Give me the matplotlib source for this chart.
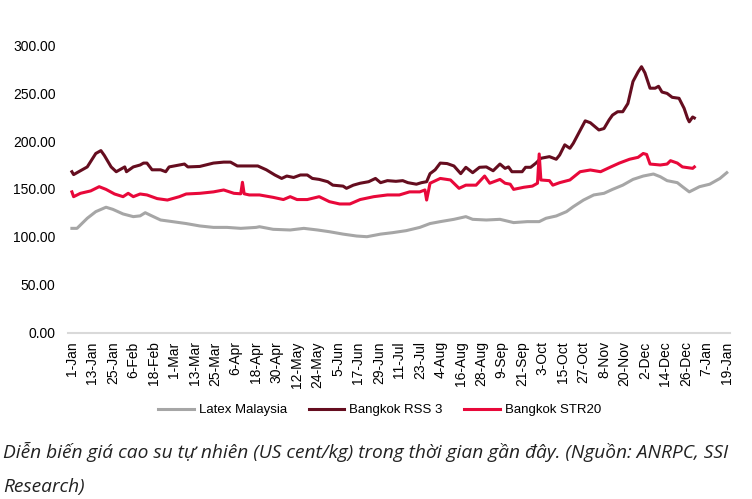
import matplotlib
matplotlib.use('Agg')
from matplotlib import pyplot as plt
import matplotlib.dates as mdates
import pandas as pd
import numpy as np

# days counted from 1-Jan-2024, values in US cent/kg
latex_days = [0, 3, 9, 14, 20, 24, 30, 36, 40, 43, 46, 52, 59, 67, 75, 83, 91, 99, 108, 110,
              118, 128, 136, 144, 151, 159, 167, 173, 181, 188, 196, 204, 210, 216, 224, 231,
              235, 243, 251, 259, 267, 274, 278, 284, 290, 294, 300, 306, 312, 317, 323, 329,
              335, 341, 345, 349, 355, 358, 362, 368, 374, 380, 384]
latex_vals = [109, 109, 119.5, 126.4, 131, 128.8, 124, 121.2, 122, 125.3, 122.7, 117.7, 116,
              114, 111.5, 110, 110, 109, 110, 110.7, 108, 107.3, 109, 107.3, 105.5, 103, 101,
              100.3, 103, 104.5, 106.6, 110, 114, 116, 118.4, 121.2, 118.4, 117.7, 118.4, 115,
              116, 116, 119.5, 121.9, 126.4, 131.6, 138.5, 143.8, 145.5, 149.6, 154, 160,
              163.5, 165.6, 162.8, 158.7, 156.6, 152.4, 147, 152.4, 155, 161, 167]

rss3_days = [0, 1, 9, 14, 17, 19, 23, 26, 31, 32, 36, 40, 42, 44, 47, 52, 55, 57, 63, 66, 68,
             75, 83, 89, 93, 97, 109, 114, 119, 123, 126, 130, 134, 138, 141, 145, 150, 153,
             159, 161, 165, 169, 174, 178, 181, 185, 190, 194, 197, 202, 205, 208, 210, 213,
             216, 220, 224, 228, 231, 235, 239, 243, 247, 251, 254, 256, 258, 264, 266, 269,
             272, 275, 280, 284, 286, 289, 292, 294, 298, 301, 304, 309, 312, 315, 317, 320,
             323, 326, 329, 332, 334, 336, 339, 342, 344, 346, 349, 352, 356, 359, 361, 362,
             364, 365]
rss3_vals = [168, 165, 173, 187, 190, 185, 173, 168, 173, 168, 173, 175, 177, 177, 170, 170,
             168, 173, 175, 176, 173, 173.5, 177, 178, 178, 174, 174, 170, 164.6, 161, 163.5,
             162, 164.6, 164.6, 161, 160, 157.6, 154, 153, 150.7, 154, 156, 157.6, 161, 156.6,
             158.7, 158, 158.7, 156.6, 155, 156.6, 157.6, 166, 170, 177, 176.5, 174, 166,
             172.6, 167, 172.6, 173, 169, 176, 171.5, 173, 168, 168, 172.6, 172.6, 176.8, 182,
             183.7, 181, 185.4, 196, 192.4, 197.6, 211, 221, 219, 211.5, 213, 222, 227, 230.5,
             230.5, 239, 262, 272, 277.4, 271, 255, 255, 257, 251, 249.6, 245.5, 244.5, 234,
             223.6, 220, 225, 224]

str20_days = [0, 1, 5, 11, 16, 20, 25, 30, 33, 36, 40, 44, 50, 56, 63, 67, 75, 83, 89, 95, 99,
              100, 101, 104, 110, 118, 124, 128, 132, 138, 145, 151, 157, 163, 169, 177, 185,
              192, 198, 204, 207, 208, 210, 216, 222, 227, 231, 237, 242, 245, 251, 254, 257,
              259, 265, 270, 273, 274, 275, 280, 282, 286, 292, 298, 304, 310, 316, 321, 327,
              332, 335, 337, 339, 345, 349, 351, 355, 358, 364, 365]
str20_vals = [147, 142, 145.5, 148, 152.4, 149.6, 144.8, 142, 145.5, 142, 144.8, 143.8, 140,
              138.5, 142, 144.8, 145.5, 147, 149, 145.5, 145, 157, 145, 143.8, 143.8, 141.3, 139,
              142, 139, 139, 142, 136.8, 134.4, 134.4, 139, 142, 143.8, 143.8, 147, 147, 149,
              138.5, 156, 161, 159.4, 150.7, 154, 154, 163.5, 156, 160, 156, 155, 149.6, 151.8,
              153, 156, 186.5, 159.4, 158.7, 154, 156.6, 159.4, 168, 169.8, 168, 173, 177, 181,
              183, 187, 186, 176, 175, 176, 179.5, 177, 173, 171.5, 173]

start = pd.Timestamp('2024-01-01')
to_dates = lambda days: start + pd.to_timedelta(days, unit='D')

grey = '#a6a6a6'
maroon = '#650d1f'
red = '#e8083a'

plt.rcParams['font.family'] = ['Liberation Sans', 'DejaVu Sans']

fig = plt.figure(figsize=(7.52, 4.99), dpi=100)
ax = fig.add_axes([0.0904, 0.3327, 0.8806, 0.5771])

ax.plot(to_dates(latex_days), latex_vals, color=grey, lw=2.2, label='Latex Malaysia')
ax.plot(to_dates(rss3_days), rss3_vals, color=maroon, lw=2.2, label='Bangkok RSS 3')
ax.plot(to_dates(str20_days), str20_vals, color=red, lw=2.2, label='Bangkok STR20')

ax.set_ylim(0, 300)
ax.set_yticks(np.arange(0, 301, 50))
ax.yaxis.set_major_formatter(matplotlib.ticker.FormatStrFormatter('%.2f'))
ax.set_xlim(to_dates(-2.3), to_dates(386))
ax.set_xticks(pd.date_range('2024-01-01', '2025-01-19', freq='12D'))
ax.xaxis.set_major_formatter(mdates.DateFormatter('%-d-%b'))
ax.tick_params(axis='x', rotation=90, length=0, pad=6, labelsize=10)
ax.tick_params(axis='y', length=0, pad=9, labelsize=10)

for s in ['top', 'right', 'left']:
    ax.spines[s].set_visible(False)
ax.spines['bottom'].set_color('#d9d9d9')
ax.spines['bottom'].set_linewidth(1.5)

fig.legend(loc='center', bbox_to_anchor=(0.505, 0.178), ncol=3, frameon=False,
           fontsize=9.5, handlelength=2.7, handletextpad=0.4, columnspacing=1.6)

cap_font = ['Open Sans', 'DejaVu Sans']
fig.text(0.004, 0.094, 'Diễn biến giá cao su tự nhiên (US cent/kg) trong thời gian gần đây. (Nguồn: ANRPC, SSI',
         family=cap_font, style='italic', fontsize=13.8, color='#222222', va='center')
fig.text(0.004, 0.024, 'Research)', family=cap_font, style='italic', fontsize=13.8,
         color='#222222', va='center')

fig.savefig('out.png', dpi=100)
